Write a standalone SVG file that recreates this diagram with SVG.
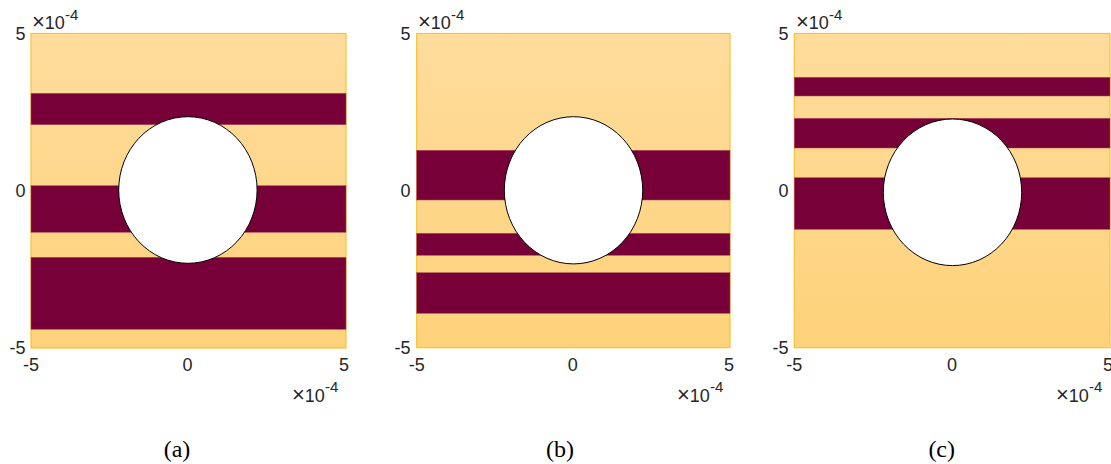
<svg xmlns="http://www.w3.org/2000/svg" width="1111" height="464" viewBox="0 0 1111 464">
<defs>
<linearGradient id="bg" x1="0" y1="0" x2="0" y2="1">
<stop offset="0" stop-color="#FEDC9C"/>
<stop offset="1" stop-color="#FED27A"/>
</linearGradient>
<style>
.bgr{fill:url(#bg);stroke:#F7C235;stroke-width:1.2}
.band{fill:#780038;stroke:#B04A5C;stroke-width:0.5}
.hole{fill:#FFFFFF;stroke:#000000;stroke-width:1}
.tk{font-family:"Liberation Sans",Arial,sans-serif;font-size:18px;fill:#262626}
.ex{font-family:"Liberation Sans",Arial,sans-serif;font-size:18px;fill:#262626}
.x{font-size:22px;font-weight:300}
.sup{font-size:15px}
.cap{font-family:"Liberation Serif","Times New Roman",serif;font-size:24px;fill:#000000;text-anchor:middle}
.e{text-anchor:end}
.m{text-anchor:middle}
</style>
</defs>
<rect width="1111" height="464" fill="#FFFFFF"/>

<g id="panel-a">
<rect class="bgr" x="31" y="33.5" width="315" height="314.5"/>
<rect class="band" x="31" y="93.3" width="315" height="31.4"/>
<rect class="band" x="31" y="185.7" width="315" height="46.6"/>
<rect class="band" x="31" y="257.3" width="315" height="72"/>
<ellipse class="hole" cx="187.9" cy="190" rx="69.2" ry="73.3"/>
<text class="tk e" x="25.5" y="40">5</text>
<text class="tk e" x="25.5" y="197.3">0</text>
<text class="tk e" x="25.5" y="353.5">-5</text>
<text class="tk m" x="31" y="370.7">-5</text>
<text class="tk m" x="187.5" y="370.7">0</text>
<text class="tk m" x="344" y="370.7">5</text>
<text class="ex" x="32" y="29.3"><tspan class="x">×</tspan>10<tspan class="sup" dy="-9.5">-4</tspan></text>
<text class="ex" x="292" y="401.7"><tspan class="x">×</tspan>10<tspan class="sup" dy="-9.5">-4</tspan></text>
<text class="cap" x="177" y="456.5">(a)</text>
</g>

<g id="panel-b">
<rect class="bgr" x="416.7" y="33.5" width="313.3" height="314.2"/>
<rect class="band" x="416.7" y="150.3" width="313.3" height="49.7"/>
<rect class="band" x="416.7" y="233.3" width="313.3" height="22"/>
<rect class="band" x="416.7" y="272.7" width="313.3" height="40.6"/>
<ellipse class="hole" cx="573.5" cy="190.3" rx="69.2" ry="73.6"/>
<text class="tk e" x="410.5" y="40">5</text>
<text class="tk e" x="410.5" y="197.3">0</text>
<text class="tk e" x="410.5" y="353.5">-5</text>
<text class="tk m" x="416.7" y="370.7">-5</text>
<text class="tk m" x="572.8" y="370.7">0</text>
<text class="tk m" x="729" y="370.7">5</text>
<text class="ex" x="418" y="29.3"><tspan class="x">×</tspan>10<tspan class="sup" dy="-9.5">-4</tspan></text>
<text class="ex" x="677" y="401.7"><tspan class="x">×</tspan>10<tspan class="sup" dy="-9.5">-4</tspan></text>
<text class="cap" x="560" y="456.5">(b)</text>
</g>

<g id="panel-c">
<rect class="bgr" x="794.3" y="33.5" width="315.7" height="314.2"/>
<rect class="band" x="794.3" y="77.3" width="315.7" height="18.7"/>
<rect class="band" x="794.3" y="118.3" width="315.7" height="29.7"/>
<rect class="band" x="794.3" y="177.7" width="315.7" height="51.6"/>
<ellipse class="hole" cx="952.5" cy="192.3" rx="69.2" ry="73.3"/>
<text class="tk e" x="788.5" y="40">5</text>
<text class="tk e" x="788.5" y="197.3">0</text>
<text class="tk e" x="788.5" y="353.5">-5</text>
<text class="tk m" x="794.3" y="370.7">-5</text>
<text class="tk m" x="952" y="370.7">0</text>
<text class="tk m" x="1108" y="370.7">5</text>
<text class="ex" x="796" y="29.3"><tspan class="x">×</tspan>10<tspan class="sup" dy="-9.5">-4</tspan></text>
<text class="ex" x="1056" y="401.7"><tspan class="x">×</tspan>10<tspan class="sup" dy="-9.5">-4</tspan></text>
<text class="cap" x="941.7" y="456.5">(c)</text>
</g>
</svg>
